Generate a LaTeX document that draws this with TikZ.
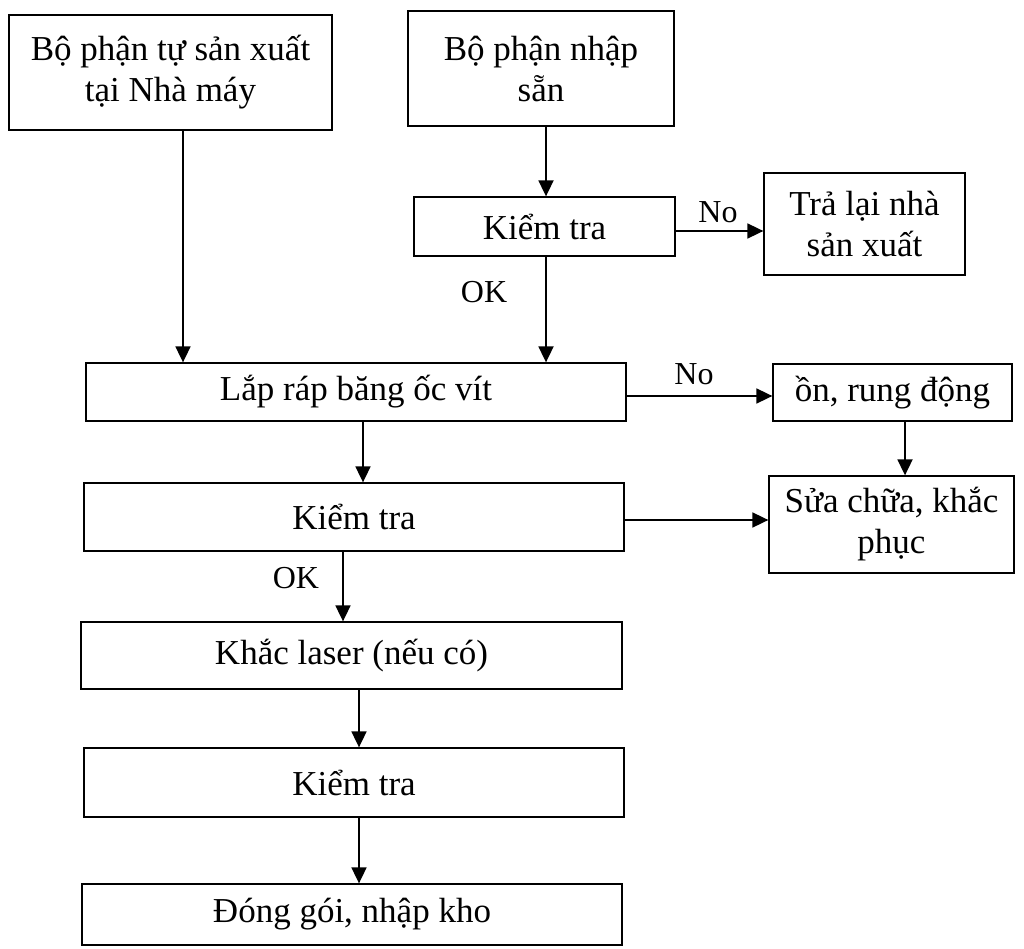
\documentclass[tikz,border=0pt]{standalone}
\usepackage{fontspec}
\setmainfont{Liberation Serif}
\usetikzlibrary{arrows.meta,calc}
\tikzset{
  box/.style={draw=black, line width=1.3pt, inner sep=0pt, align=center,
    font=\fontsize{35}{41}\selectfont},
  arr/.style={line width=1.8pt, -{Triangle[length=16pt,width=15pt]}},
  lbl/.style={font=\fontsize{32}{36}\selectfont, inner sep=0pt}
}
\begin{document}
\begin{tikzpicture}[x=1pt,y=-1pt]
\useasboundingbox (0,0) rectangle (1024,949);
% process boxes
\node[box, minimum width=323pt, minimum height=115pt] (b1) at (170.5,72.5) {Bộ phận tự sản xuất\\tại Nhà máy};
\node[box, minimum width=266pt, minimum height=115pt] (b2) at (541,68.5) {Bộ phận nhập\\sẵn};
\node[box, minimum width=261pt, minimum height=59pt] (k1) at (544.5,226.5) {Kiểm tra};
\node[box, minimum width=201pt, minimum height=102pt] (tl) at (864.5,224) {Trả lại nhà\\sản xuất};
\node[box, minimum width=540pt, minimum height=58pt] (lr) at (356,392) {Lắp ráp băng ốc vít};
\node[box, minimum width=239pt, minimum height=57pt] (on) at (892.5,392.5) {ồn, rung động};
\node[box, minimum width=540pt, minimum height=68pt] (k2) at (354,517) {Kiểm tra};
\node[box, minimum width=245pt, minimum height=97pt] (sc) at (891.5,524.5) {Sửa chữa, khắc\\phục};
\node[box, minimum width=541pt, minimum height=67pt] (kl) at (351.5,655.5) {Khắc laser (nếu có)};
\node[box, minimum width=540pt, minimum height=69pt] (k3) at (354,782.5) {Kiểm tra};
\node[box, minimum width=540pt, minimum height=61pt] (dg) at (352,914.5) {Đóng gói, nhập kho};
% connector guide lines
\coordinate (xA) at (183,0);
\coordinate (xB) at (546,0);
\coordinate (xC) at (363,0);
\coordinate (xD) at (905,0);
\coordinate (xE) at (343,0);
\coordinate (xF) at (359,0);
\coordinate (yA) at (0,231);
\coordinate (yB) at (0,396);
\coordinate (yC) at (0,520);
% connectors
\draw[arr] (b1.south -| xA) -- (lr.north -| xA);
\draw[arr] (b2.south -| xB) -- (k1.north -| xB);
\draw[arr] (k1.south -| xB) -- (lr.north -| xB);
\draw[arr] (k1.east |- yA) -- (tl.west |- yA);
\draw[arr] (lr.east |- yB) -- (on.west |- yB);
\draw[arr] (lr.south -| xC) -- (k2.north -| xC);
\draw[arr] (on.south -| xD) -- (sc.north -| xD);
\draw[arr] (k2.east |- yC) -- (sc.west |- yC);
\draw[arr] (k2.south -| xE) -- (kl.north -| xE);
\draw[arr] (kl.south -| xF) -- (k3.north -| xF);
\draw[arr] (k3.south -| xF) -- (dg.north -| xF);
% branch labels
\node[lbl] (no1) at (718,212) {No};
\node[lbl] (ok1) at (484,292) {OK};
\node[lbl] (no2) at (694,374) {No};
\node[lbl] (ok2) at (296,578) {OK};
\end{tikzpicture}
\end{document}
